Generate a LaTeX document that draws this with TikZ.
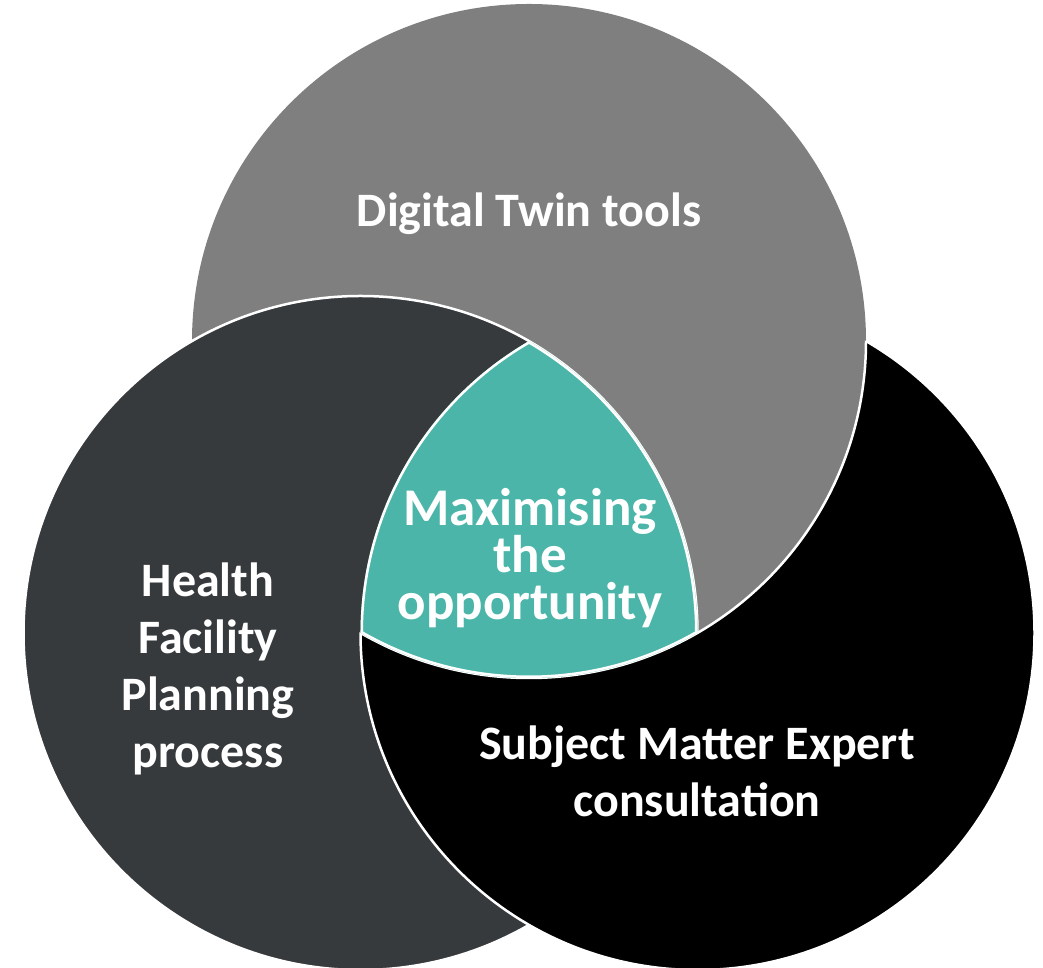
\documentclass[tikz,border=0pt]{standalone}
\usepackage{fontspec}
\setmainfont{Carlito}
\definecolor{cgray}{HTML}{7F7F7F}
\definecolor{cdark}{HTML}{373A3D}
\definecolor{cteal}{HTML}{4AB5A8}
\begin{document}
\begin{tikzpicture}[x=1pt,y=1pt,
  circ/.style={draw=white,line width=2.5pt},
  lbl/.style={text=white,font=\bfseries\fontsize{48}{57}\selectfont,align=center,inner sep=0pt}]
\useasboundingbox (0,0) rectangle (1043,968);
\coordinate (cg) at (529,627);
\coordinate (cd) at (360.5,335);
\coordinate (cb) at (697.5,335);
\def\R{337}
\begin{scope}
\clip (0,0) rectangle (1043,968);
% gray, then dark over gray
\fill[cgray] (cg) circle (\R);
\draw[circ,fill=cdark] (cd) circle (\R);
% black over dark, but under gray
\begin{scope}[even odd rule]
\clip (-10,-10) rectangle (1060,980) (cg) circle (\R);
\draw[circ,fill=black,nonzero rule] (cb) circle (\R);
\end{scope}
% gray outline where it lies over black
\begin{scope}
\clip (cb) circle (\R);
\draw[circ] (cg) circle (\R);
\end{scope}
% teal triple intersection
\begin{scope}
\clip (cg) circle (\R);
\clip (cd) circle (\R);
\clip (cb) circle (\R);
\fill[cteal] (cb) circle (\R);
\draw[draw=white,line width=5pt] (cg) circle (\R);
\draw[draw=white,line width=5pt] (cd) circle (\R);
\draw[draw=white,line width=5pt] (cb) circle (\R);
\end{scope}
\end{scope}
\node[lbl] (tg) at (529,754) {Digital Twin tools};
\node[lbl] (td) at (208,299) {Health\\Facility\\Planning\\process};
\node[lbl,font=\bfseries\fontsize{53}{47}\selectfont] (tt) at (530,410) {Maximising\\the\\opportunity};
\node[lbl] (tb) at (697,197) {Subject Matter Expert\\consultation};
\end{tikzpicture}
\end{document}
